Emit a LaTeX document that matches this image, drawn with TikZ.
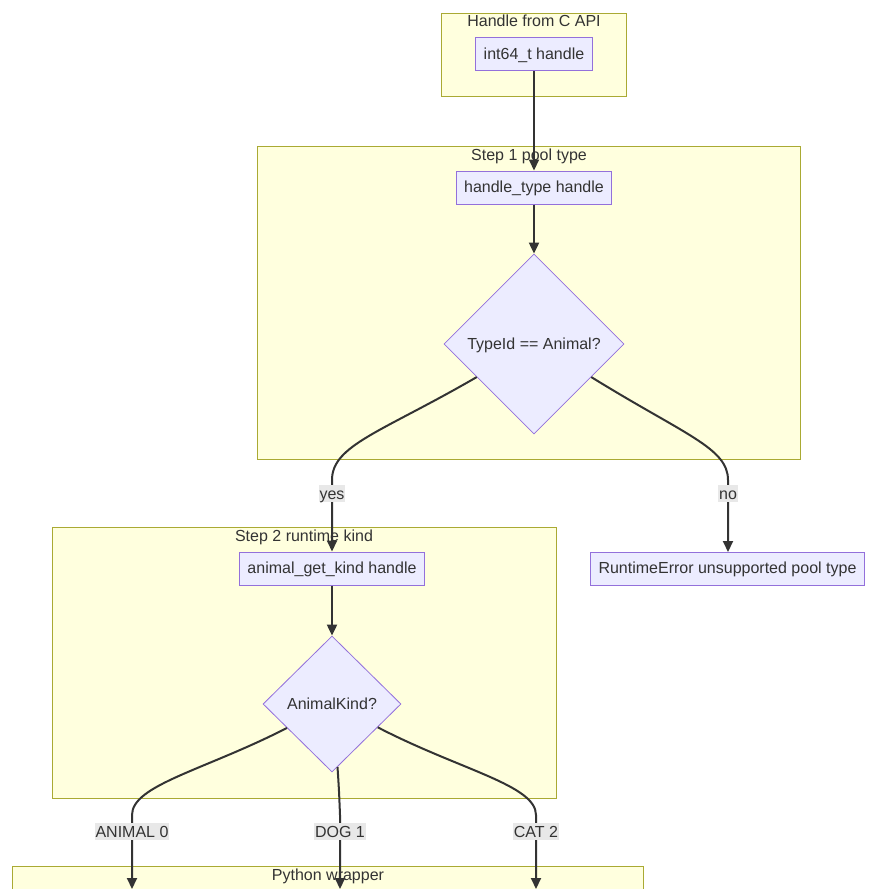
\documentclass[tikz,border=0pt]{standalone}
\usepackage{fontspec}
\setmainfont{Liberation Sans}
\usetikzlibrary{shapes.geometric,arrows.meta}
\definecolor{clfill}{HTML}{FFFFDE}
\definecolor{clline}{HTML}{AAAA33}
\definecolor{ndfill}{HTML}{ECECFF}
\definecolor{ndline}{HTML}{9370DB}
\definecolor{edgec}{HTML}{333333}
\definecolor{lblbg}{HTML}{E8E8E8}
\definecolor{txt}{HTML}{333333}
\begin{document}
\begin{tikzpicture}[x=1pt,y=-1pt,font=\fontsize{16}{19}\selectfont,text=txt,
  cluster/.style={draw=clline,fill=clfill,line width=1pt,rectangle,inner sep=0pt},
  ctitle/.style={inner sep=0pt,text height=12pt,text depth=2pt},
  box/.style={draw=ndline,fill=ndfill,line width=1pt,rectangle,minimum height=33pt,inner xsep=8pt,inner ysep=0pt,text height=12pt,text depth=2pt},
  decision/.style={diamond,draw=ndline,fill=ndfill,line width=0.8pt,inner sep=0pt,text height=12pt,text depth=2pt},
  flow/.style={draw=edgec,line width=2pt,-{Triangle[length=11pt,width=10pt]}},
  elabel/.style={fill=lblbg,inner xsep=1pt,inner ysep=1pt,text height=13pt,text depth=2pt}]
\useasboundingbox (0,0) rectangle (877,889);
\fill[white] (0,0) rectangle (877,889);
% clusters
\node[cluster,minimum width=185pt,minimum height=83pt] (c1) at (533.5,54.5) {};
\node[cluster,minimum width=543pt,minimum height=313pt] (c2) at (528.5,302.5) {};
\node[cluster,minimum width=504pt,minimum height=271pt] (c3) at (304,662.5) {};
\node[cluster,minimum width=631pt,minimum height=74pt] (c4) at (327.5,903) {};
\node[ctitle] (t1) at (534,21.5) {Handle from C API};
\node[ctitle] (t2) at (529,155.5) {Step 1 pool type};
\node[ctitle] (t3) at (304,536.5) {Step 2 runtime kind};
\node[ctitle] (t4) at (328,875.5) {Python wrapper};
% nodes
\node[box] (n1) at (534,54) {int64\_t handle};
\node[box] (n2) at (534,187.5) {handle\_type handle};
\node[decision,minimum width=180pt,minimum height=180pt] (d1) at (534,344) {TypeId == Animal?};
\node[box] (n3) at (332,568.5) {animal\_get\_kind handle};
\node[box] (e1) at (727.5,568.5) {RuntimeError unsupported pool type};
\node[decision,minimum width=138pt,minimum height=136pt] (d2) at (332,704) {AnimalKind?};
\coordinate (end1) at (132,889);
\coordinate (end2) at (340,889);
\coordinate (end3) at (536,889);
% edges
\draw[flow] (n1.south) -- (n1.south |- n2.north);
\draw[flow] (n2.south) -- (n2.south |- d1.north);
\draw[flow] (d1.210) .. controls (382,432) and (332,445) .. (332,480) -- (n3.north);
\draw[flow] (d1.330) .. controls (685,435) and (728,448) .. (728,480) -- (728,552);
\draw[flow] (n3.south) -- (n3.south |- d2.north);
\draw[flow] (d2.208) .. controls (205,770) and (132,785) .. (132,815) -- (end1);
\draw[flow] (d2.275) .. controls (339,790) .. (340,815) -- (end2);
\draw[flow] (d2.333) .. controls (460,770) and (536,785) .. (536,815) -- (end3);
% labels
\node[elabel] (ly) at (332,493.5) {yes};
\node[elabel] (ln) at (728,493.5) {no};
\node[elabel] (la) at (132,831.5) {ANIMAL 0};
\node[elabel] (ld) at (340,831.5) {DOG 1};
\node[elabel] (lc) at (536,831.5) {CAT 2};
\end{tikzpicture}
\end{document}
